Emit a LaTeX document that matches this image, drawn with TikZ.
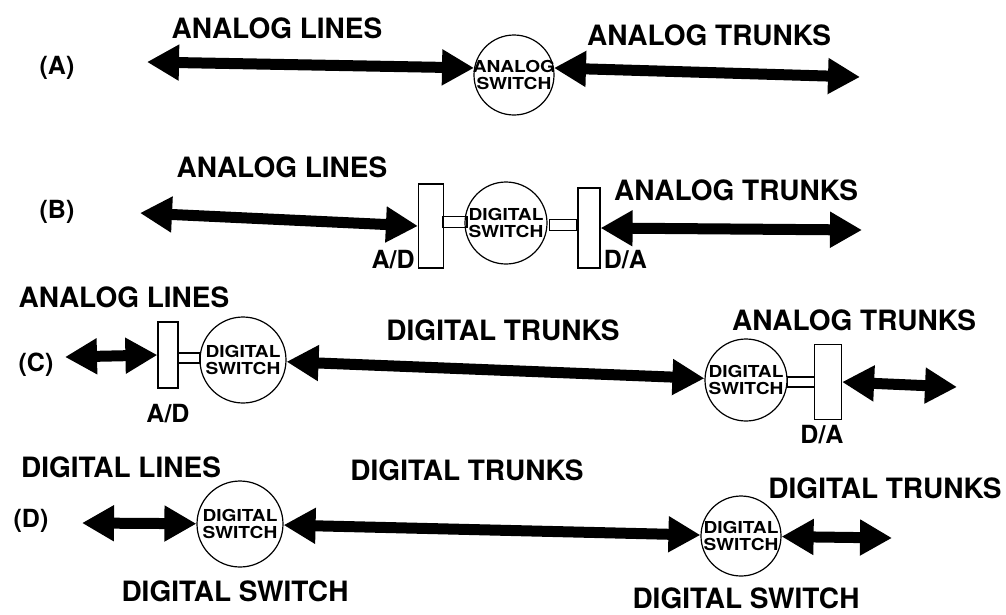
\documentclass[tikz,border=0pt]{standalone}
\usepackage{fontspec}
\setmainfont{TeX Gyre Heros}
\newfontfamily\swfont[FakeStretch=1.16]{TeX Gyre Heros}
\usetikzlibrary{arrows.meta,positioning}

\begin{document}
\begin{tikzpicture}[x=1pt, y=-1pt,
  lbl/.style={font=\fontsize{28}{30}\selectfont\bfseries, inner sep=0pt},
  tag/.style={font=\fontsize{25}{27}\selectfont\bfseries, inner sep=0pt},
  sw/.style={circle, draw, line width=1.2pt, minimum size=#1, inner sep=0pt},
  swtxt/.style={font=\swfont\fontsize{16.5}{16.5}\selectfont\bfseries, align=center, inner sep=0pt},
  conv/.style={draw, fill=white, line width=1.2pt, inner sep=0pt},
  link/.style={draw, fill=white, line width=1.2pt, inner sep=0pt, minimum height=11},
  arr/.style={{Triangle[length=32pt,width=34pt]}-{Triangle[length=32pt,width=34pt]}, line width=11pt}]

\useasboundingbox (0,0) rectangle (1006,614);

% (A)
\node[tag] (rowA) at (57,68) {(A)};
\node[lbl] (linesA) at (277,28) {ANALOG LINES};
\node[lbl] (trunksA) at (709,35) {ANALOG TRUNKS};
\node[sw=80, label={[swtxt]center:ANALOG\\SWITCH}] (swA) at (514,75) {};
\coordinate (endAl) at (147,62);
\coordinate (endAr) at (860,77);
\draw[arr] (endAl) -- (swA.170);
\draw[arr] (swA.10) -- (endAr);

% (B)
\node[tag] (rowB) at (57,212) {(B)};
\node[lbl] (linesB) at (282,167) {ANALOG LINES};
\node[lbl] (trunksB) at (736,190) {ANALOG TRUNKS};
\node[conv, minimum width=25, minimum height=84] (adB) at (431,226) {};
\node[link, minimum width=24] (lnkB1) at (455,222) {};
\node[sw=82, label={[swtxt]center:DIGITAL\\SWITCH}] (swB) at (506,223) {};
\node[link, minimum width=27] (lnkB2) at (563,225) {};
\node[conv, minimum width=22, minimum height=80] (daB) at (589,228) {};
\node[tag, anchor=south east] (adBl) at ([xshift=-3pt]adB.south west) {A/D};
\node[tag, anchor=south west] (daBl) at ([xshift=3pt]daB.south east) {D/A};
\coordinate (endBl) at (140,213);
\coordinate (endBr) at (862,230);
\draw[arr] (endBl) -- (adB.west);
\draw[arr] (daB.east) -- (endBr);

% (C)
\node[tag] (rowC) at (36,365) {(C)};
\node[lbl] (linesC) at (124,297) {ANALOG LINES};
\node[lbl] (trunksC1) at (503,330) {DIGITAL TRUNKS};
\node[lbl] (trunksC2) at (854,320) {ANALOG TRUNKS};
\node[conv, minimum width=20, minimum height=66] (adC) at (168,355) {};
\node[link, minimum width=22, minimum height=10] (lnkC1) at (189,358) {};
\node[sw=86, label={[swtxt]center:DIGITAL\\SWITCH}] (swC1) at (243,360) {};
\node[sw=82, label={[swtxt]center:DIGITAL\\SWITCH}] (swC2) at (746,380) {};
\node[link, minimum width=27, minimum height=10] (lnkC2) at (801,382) {};
\node[conv, minimum width=27, minimum height=75] (daC) at (828,382) {};
\node[tag, below=15pt of adC] (adCl) {A/D};
\node[tag, below=5pt of daC, xshift=-6pt] (daCl) {D/A};
\coordinate (endCl) at (65,357);
\coordinate (endCr) at (957,387);
\draw[arr] (endCl) -- (adC.west);
\draw[arr] (swC1) -- (swC2);
\draw[arr] (daC.east) -- (endCr);

% (D)
\node[tag] (rowD) at (31,521) {(D)};
\node[lbl] (linesD) at (121,467) {DIGITAL LINES};
\node[lbl] (trunksD1) at (467,470) {DIGITAL TRUNKS};
\node[lbl] (trunksD2) at (885,488) {DIGITAL TRUNKS};
\node[sw=86, label={[swtxt]center:DIGITAL\\SWITCH}] (swD1) at (240,524) {};
\node[sw=80, label={[swtxt]center:DIGITAL\\SWITCH}] (swD2) at (741,536) {};
\node[lbl] (nameD1) at (235,591) {DIGITAL SWITCH};
\node[lbl] (nameD2) at (746,598) {DIGITAL SWITCH};
\coordinate (endDl) at (82,523);
\coordinate (endDr) at (892,538);
\draw[arr] (endDl) -- (swD1);
\draw[arr] (swD1) -- (swD2);
\draw[arr] (swD2) -- (endDr);
\end{tikzpicture}
\end{document}
